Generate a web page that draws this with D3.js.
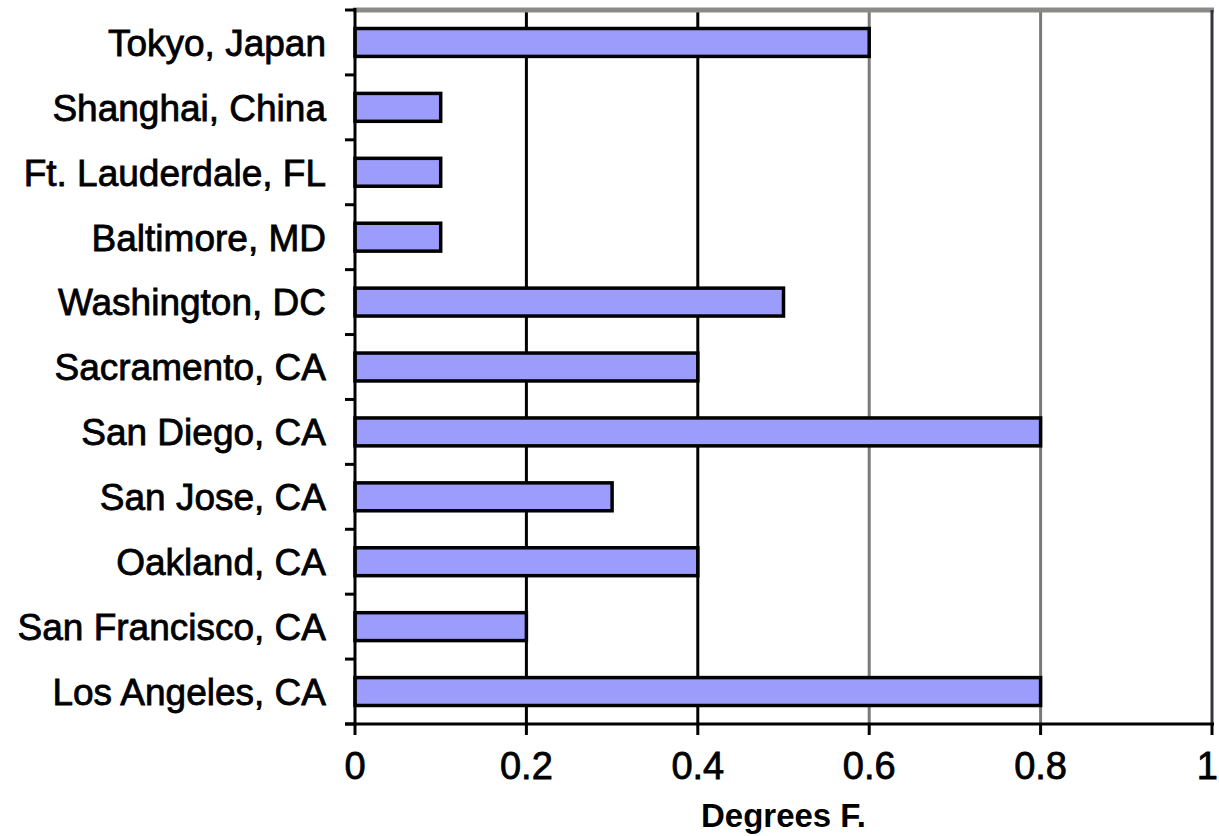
<!DOCTYPE html>
<html>
<head>
<meta charset="utf-8">
<script src="https://cdn.jsdelivr.net/npm/d3@7"></script>
<style>
  html, body { margin: 0; padding: 0; background: #fff; }
  svg { display: block; }
</style>
</head>
<body>
<svg id="chart" width="1219" height="836"></svg>
<script>
const categories = ["Tokyo, Japan", "Shanghai, China", "Ft. Lauderdale, FL", "Baltimore, MD",
  "Washington, DC", "Sacramento, CA", "San Diego, CA", "San Jose, CA", "Oakland, CA",
  "San Francisco, CA", "Los Angeles, CA"];
const values = [0.6, 0.1, 0.1, 0.1, 0.5, 0.4, 0.8, 0.3, 0.4, 0.2, 0.8];
const xTicks = [0, 0.2, 0.4, 0.6, 0.8, 1];
const xTickLabels = ["0", "0.2", "0.4", "0.6", "0.8", "1"];
const axisTitle = "Degrees F.";

const svg = d3.select("#chart");
const pL = 355, pR = 1212, pT = 10, pB = 724;

const x = d3.scaleLinear().domain([0, 1]).range([pL, pR]);
const y = d3.scaleBand().domain(categories).range([pT, pB])
  .paddingInner(0.57).paddingOuter(0.285);

// gridlines
svg.append("g").selectAll("line")
  .data(xTicks.filter(d => d > 0 && d < 1))
  .join("line")
  .attr("x1", d => x(d)).attr("x2", d => x(d))
  .attr("y1", pT).attr("y2", pB)
  .attr("stroke", d => d >= 0.6 ? "#7a7a7a" : "#000")
  .attr("stroke-width", 3);

// top border
svg.append("line").attr("x1", pL - 2).attr("x2", pR + 2)
  .attr("y1", pT).attr("y2", pT)
  .attr("stroke", "#8a8a86").attr("stroke-width", 5);
// right border
svg.append("line").attr("x1", pR).attr("x2", pR)
  .attr("y1", pT).attr("y2", pB)
  .attr("stroke", "#34343f").attr("stroke-width", 3);

// bars
svg.append("g").selectAll("rect")
  .data(categories.map((c, i) => ({c, v: values[i]})))
  .join("rect")
  .attr("x", x(0))
  .attr("y", d => y(d.c))
  .attr("width", d => x(d.v) - x(0))
  .attr("height", y.bandwidth())
  .attr("fill", "#9c9cfc")
  .attr("stroke", "#000")
  .attr("stroke-width", 3.5);

// y axis
const yAxisG = svg.append("g").attr("transform", `translate(${pL},0)`);
yAxisG.append("line").attr("x1", 0).attr("x2", 0).attr("y1", pT - 2).attr("y2", pB + 2)
  .attr("stroke", "#000").attr("stroke-width", 3);
const boundaries = d3.range(categories.length + 1).map(i => pT + i * y.step());
yAxisG.selectAll("line.tick").data(boundaries).join("line").attr("class", "tick")
  .attr("x1", -10).attr("x2", 0).attr("y1", d => d).attr("y2", d => d)
  .attr("stroke", "#000").attr("stroke-width", 3);
yAxisG.selectAll("text").data(categories).join("text")
  .attr("x", -29)
  .attr("y", d => y(d) + y.bandwidth() / 2)
  .attr("dy", "0.36em")
  .attr("text-anchor", "end")
  .attr("font-family", "Liberation Sans, Arial, sans-serif")
  .attr("font-size", 37)
  .attr("fill", "#000")
  .attr("stroke", "#000").attr("stroke-width", 0.8)
  .text(d => d);

// x axis
const xAxisG = svg.append("g").attr("transform", `translate(0,${pB})`);
xAxisG.append("line").attr("x1", pL - 10).attr("x2", pR + 2).attr("y1", 0).attr("y2", 0)
  .attr("stroke", "#000").attr("stroke-width", 3);
xAxisG.selectAll("line.tick").data(xTicks).join("line").attr("class", "tick")
  .attr("x1", d => x(d)).attr("x2", d => x(d)).attr("y1", 0).attr("y2", 11)
  .attr("stroke", "#000").attr("stroke-width", 3);
xAxisG.selectAll("text").data(xTicks).join("text")
  .attr("x", (d, i) => i === xTicks.length - 1 ? 1218 : x(d))
  .attr("y", 55)
  .attr("text-anchor", (d, i) => i === xTicks.length - 1 ? "end" : "middle")
  .attr("font-family", "Liberation Sans, Arial, sans-serif")
  .attr("font-size", 38)
  .attr("fill", "#000")
  .attr("stroke", "#000").attr("stroke-width", 0.8)
  .text((d, i) => xTickLabels[i]);

svg.append("text")
  .attr("x", (pL + pR) / 2)
  .attr("y", 827)
  .attr("text-anchor", "middle")
  .attr("font-family", "Liberation Sans, Arial, sans-serif")
  .attr("font-weight", "bold")
  .attr("font-size", 33)
  .attr("fill", "#000")
  .text(axisTitle);
</script>
</body>
</html>
